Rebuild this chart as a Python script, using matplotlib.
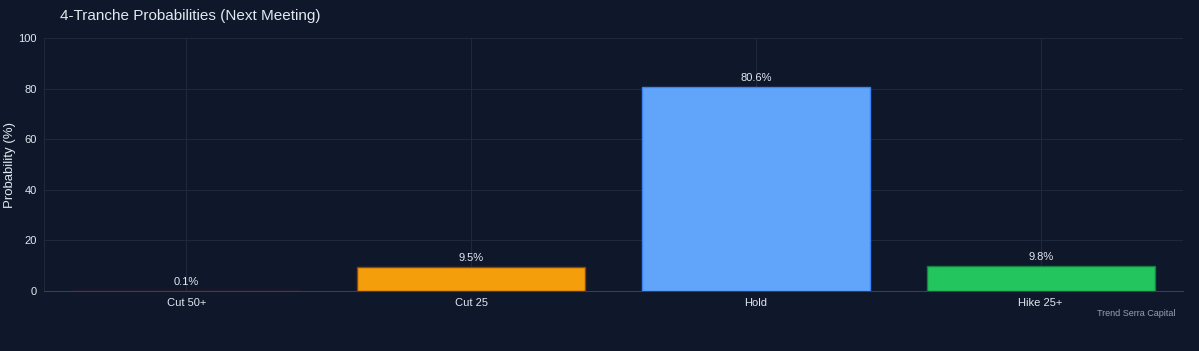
import matplotlib.pyplot as plt

plt.rcParams['font.family'] = ['Liberation Sans', 'DejaVu Sans']

categories = ['Cut 50+', 'Cut 25', 'Hold', 'Hike 25+']
probs = [0.1, 9.5, 80.6, 9.8]
colors = ['#ef4444', '#f59e0b', '#60a5fa', '#22c55e']
edges = ['#7f1d1d', '#92400e', '#3b82f6', '#15803d']

bg = '#0f172a'
grid = '#1e293b'
txt = '#e2e8f0'

fig = plt.figure(figsize=(11.99, 3.51), dpi=100, facecolor=bg)
ax = fig.add_axes([0.0367, 0.171, 0.950, 0.7205], facecolor=bg)

x = range(len(categories))
ax.bar(x, probs, width=0.8, color=colors, edgecolor=edges, linewidth=1, zorder=3)
for i, v in zip(x, probs):
    ax.annotate(f'{v:.1f}%', (i, v), xytext=(0, 3), textcoords='offset points',
                ha='center', va='bottom', color=txt, fontsize=8, zorder=4)

ax.set_xlim(-0.5, len(categories) - 0.5)
ax.set_ylim(0, 100)
ax.set_xticks(list(x))
ax.set_xticklabels(categories)
ax.set_yticks([0, 20, 40, 60, 80, 100])
ax.tick_params(colors=txt, labelsize=8, length=0, pad=5)
ax.grid(True, color=grid, linewidth=0.8, zorder=0)
for s in ['top', 'right']:
    ax.spines[s].set_visible(False)
ax.spines['left'].set_color(grid)
ax.spines['bottom'].set_color('#334155')

fig.text(0.0085, 0.53, 'Probability (%)', color=txt, fontsize=9.5,
         rotation=90, ha='center', va='center')
fig.text(0.05, 0.955, '4-Tranche Probabilities (Next Meeting)', color=txt,
         fontsize=11, ha='left', va='center')
fig.text(0.98, 0.108, 'Trend Serra Capital', color='#94a3b8', fontsize=6.5,
         ha='right', va='center')

fig.savefig('out.png', facecolor=bg)
